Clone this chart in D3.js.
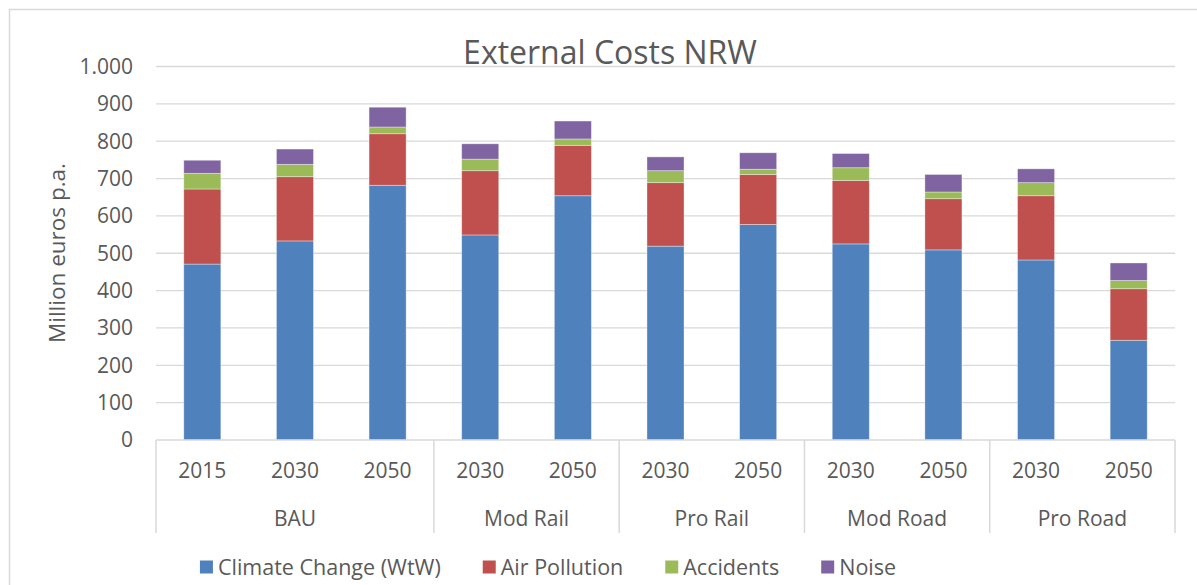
<!DOCTYPE html>
<html>
<head>
<meta charset="utf-8">
<script src="https://cdn.jsdelivr.net/npm/d3@7"></script>
<style>
  html, body { margin: 0; padding: 0; background: #fff; }
  svg { display: block; font-family: "Open Sans", "Noto Sans", sans-serif; }
</style>
</head>
<body>
<svg id="chart" width="1197" height="585"></svg>
<script>
// Scenario / year for each stacked column
const scenarios = ["BAU", "BAU", "BAU", "Mod Rail", "Mod Rail", "Pro Rail", "Pro Rail", "Mod Road", "Mod Road", "Pro Road", "Pro Road"];
const years     = ["2015", "2030", "2050", "2030", "2050", "2030", "2050", "2030", "2050", "2030", "2050"];

// Cost components, million euros per year
const climateChange = [471, 533, 682, 549, 654, 519, 577, 525, 509, 482, 267];
const airPollution  = [201, 172, 138, 172, 135, 170, 134, 170, 137, 172, 138];
const accidents     = [ 42,  33,  18,  31,  17,  32,  14,  34,  18,  35,  22];
const noise         = [ 35,  41,  53,  41,  48,  37,  44,  38,  47,  37,  47];

const seriesNames  = ["Climate Change (WtW)", "Air Pollution", "Accidents", "Noise"];
const seriesColors = ["#4F81BD", "#C0504D", "#9BBB59", "#8064A2"];
const yTicks = [0, 100, 200, 300, 400, 500, 600, 700, 800, 900, 1000];

const svg = d3.select("#chart");
const W = 1197, H = 585;
const plot = { left: 156, right: 1175, top: 66.5, bottom: 440 };
const textColor = "#595959";
const lineColor = "#d9d9d9";
const labelSize = 21;

// Outer chart frame
svg.append("rect")
  .attr("x", 9.5).attr("y", 9.5)
  .attr("width", W + 20).attr("height", H + 20)
  .attr("fill", "#fff").attr("stroke", lineColor).attr("stroke-width", 1.5);

const idx = d3.range(years.length);
const x = d3.scaleBand().domain(idx).range([plot.left, plot.right])
  .paddingInner(0.6).paddingOuter(0.3);
const y = d3.scaleLinear().domain([0, 1000]).range([plot.bottom, plot.top]);

// Horizontal gridlines
svg.append("g").selectAll("line")
  .data(yTicks.filter(d => d > 0))
  .join("line")
  .attr("x1", plot.left).attr("x2", plot.right)
  .attr("y1", d => y(d)).attr("y2", d => y(d))
  .attr("stroke", lineColor).attr("stroke-width", 1.3);

// Value axis labels
const fmt = d => d3.format(",")(d).replace(/,/g, ".");
svg.append("g").selectAll("text")
  .data(yTicks)
  .join("text")
  .attr("x", 133).attr("y", d => y(d))
  .attr("dy", "0.35em")
  .attr("text-anchor", "end")
  .attr("fill", textColor)
  .attr("font-size", labelSize)
  .text(fmt);

// Stacked columns
const rows = idx.map(i => ({
  i,
  "Climate Change (WtW)": climateChange[i],
  "Air Pollution": airPollution[i],
  "Accidents": accidents[i],
  "Noise": noise[i]
}));
const stacked = d3.stack().keys(seriesNames)(rows);
const color = d3.scaleOrdinal().domain(seriesNames).range(seriesColors);

svg.append("g").selectAll("g")
  .data(stacked)
  .join("g")
  .attr("fill", s => color(s.key))
  .selectAll("rect")
  .data(s => s)
  .join("rect")
  .attr("x", d => x(d.data.i))
  .attr("width", x.bandwidth())
  .attr("y", d => y(d[1]))
  .attr("height", d => y(d[0]) - y(d[1]))
  .attr("stroke", "rgba(255,255,255,0.45)")
  .attr("stroke-width", 0.8);

// Category axis: baseline, group dividers and two label rows
const axisG = svg.append("g");
axisG.append("line")
  .attr("x1", plot.left).attr("x2", plot.right)
  .attr("y1", plot.bottom).attr("y2", plot.bottom)
  .attr("stroke", lineColor).attr("stroke-width", 1.5);

const groups = [];
scenarios.forEach((s, i) => {
  const last = groups[groups.length - 1];
  if (last && last.name === s) last.end = i;
  else groups.push({ name: s, start: i, end: i });
});
const step = x.step();
const groupLeft = g => x(g.start) - (step - x.bandwidth()) / 2;
const groupRight = g => x(g.end) + x.bandwidth() + (step - x.bandwidth()) / 2;
const dividers = [groupLeft(groups[0])].concat(groups.map(groupRight));

axisG.selectAll("line.div")
  .data(dividers)
  .join("line")
  .attr("class", "div")
  .attr("x1", d => d).attr("x2", d => d)
  .attr("y1", plot.bottom).attr("y2", 533)
  .attr("stroke", lineColor).attr("stroke-width", 1.5);

axisG.selectAll("text.year")
  .data(idx)
  .join("text")
  .attr("class", "year")
  .attr("x", i => x(i) + x.bandwidth() / 2)
  .attr("y", 471).attr("dy", "0.35em")
  .attr("text-anchor", "middle")
  .attr("fill", textColor).attr("font-size", labelSize)
  .text(i => years[i]);

axisG.selectAll("text.group")
  .data(groups)
  .join("text")
  .attr("class", "group")
  .attr("x", g => (groupLeft(g) + groupRight(g)) / 2)
  .attr("y", 519).attr("dy", "0.35em")
  .attr("text-anchor", "middle")
  .attr("fill", textColor).attr("font-size", labelSize)
  .text(g => g.name);

// Axis title
svg.append("text")
  .attr("transform", "translate(57,253) rotate(-90)")
  .attr("dy", "0.35em")
  .attr("text-anchor", "middle")
  .attr("fill", textColor).attr("font-size", 22.5)
  .text("Million euros p.a.");

// Chart title
svg.append("text")
  .attr("x", 610).attr("y", 64)
  .attr("text-anchor", "middle")
  .attr("fill", textColor).attr("font-size", 32)
  .text("External Costs NRW");

// Legend
const legend = svg.append("g");
const items = legend.selectAll("g")
  .data(seriesNames)
  .join("g");
items.append("rect")
  .attr("width", 13).attr("height", 13)
  .attr("y", -6.5)
  .attr("fill", d => color(d));
items.append("text")
  .attr("x", 18).attr("dy", "0.35em")
  .attr("fill", textColor).attr("font-size", 21.5)
  .text(d => d);
let cx = 0;
const gap = 42;
items.each(function () {
  const w = this.getBBox().width;
  d3.select(this).attr("transform", `translate(${cx},0)`);
  cx += w + gap;
});
const totalW = cx - gap;
legend.attr("transform", `translate(${548 - totalW / 2},567)`);
</script>
</body>
</html>
